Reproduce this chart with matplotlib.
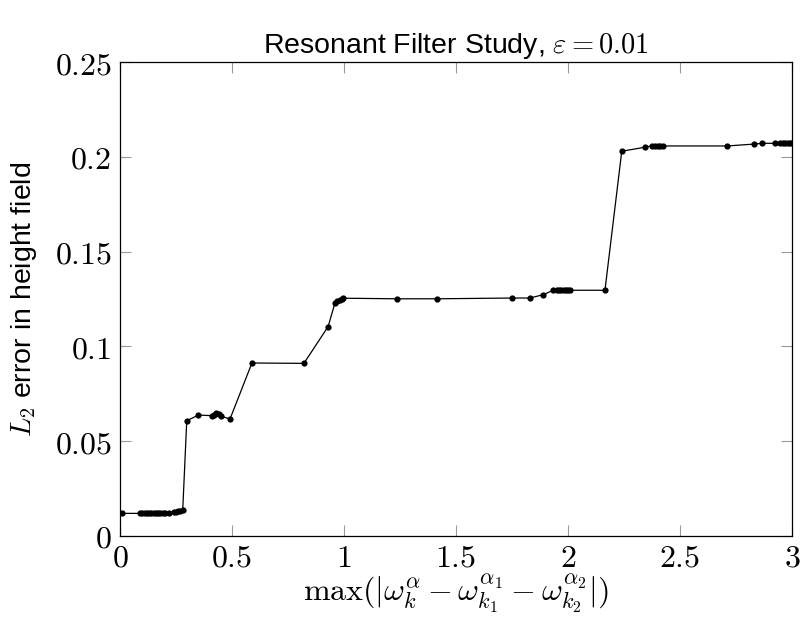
import matplotlib
matplotlib.use('Agg')
import matplotlib.pyplot as plt

plt.rcParams['mathtext.fontset'] = 'cm'

# data
x_vals = [0.01, 0.09, 0.10, 0.11, 0.12, 0.13, 0.14, 0.15, 0.16, 0.17, 0.18, 0.19,
          0.20, 0.22, 0.24, 0.25, 0.26, 0.27, 0.28,
          0.298, 0.35, 0.41, 0.42, 0.43, 0.44, 0.45, 0.491,
          0.589, 0.821, 0.929, 0.96, 0.97, 0.98, 0.99, 0.997,
          1.238, 1.415, 1.75, 1.83, 1.89,
          1.934, 1.95, 1.96, 1.97, 1.98, 1.99, 2.0, 2.009, 2.165,
          2.24, 2.342, 2.373, 2.39, 2.40, 2.41, 2.425,
          2.711, 2.832, 2.866, 2.922, 2.946, 2.96, 2.97, 2.98, 2.99, 3.0]
y_vals = [0.0118, 0.0118, 0.0118, 0.0118, 0.0118, 0.0118, 0.0118, 0.0118, 0.0118, 0.0118, 0.0118, 0.0118,
          0.0118, 0.0119, 0.0123, 0.0126, 0.0129, 0.0132, 0.0135,
          0.0607, 0.0637, 0.0634, 0.0640, 0.0650, 0.0645, 0.0632, 0.0616,
          0.0912, 0.0910, 0.1104, 0.1230, 0.1238, 0.1245, 0.1250, 0.1254,
          0.1251, 0.1251, 0.1255, 0.1255, 0.1273,
          0.1296, 0.1296, 0.1296, 0.1296, 0.1296, 0.1296, 0.1296, 0.1296, 0.1296,
          0.2030, 0.2051, 0.2058, 0.2060, 0.2060, 0.2058, 0.2058,
          0.2058, 0.2068, 0.2072, 0.2072, 0.2072, 0.2072, 0.2072, 0.2072, 0.2072, 0.2072]

x_ticks = [0, 0.5, 1, 1.5, 2, 2.5, 3]
x_tick_labels = ['$0$', '$0.5$', '$1$', '$1.5$', '$2$', '$2.5$', '$3$']
y_ticks = [0, 0.05, 0.1, 0.15, 0.2, 0.25]
y_tick_labels = ['$0$', '$0.05$', '$0.1$', '$0.15$', '$0.2$', '$0.25$']

fig = plt.figure(figsize=(8, 6.23), dpi=100)
ax = fig.add_axes([0.15, 0.1401, 0.84, 0.76])

ax.plot(x_vals, y_vals, color='black', linewidth=0.9, marker='o',
        markersize=4.5, markerfacecolor='black', markeredgewidth=0)

ax.set_xlim(0, 3)
ax.set_ylim(0, 0.25)
ax.set_xticks(x_ticks)
ax.set_xticklabels(x_tick_labels, fontsize=23)
ax.set_yticks(y_ticks)
ax.set_yticklabels(y_tick_labels, fontsize=23)
ax.tick_params(direction='in', top=True, right=True, length=8, width=0.8,
               color='#999999')
ax.tick_params(axis='x', pad=5)
ax.tick_params(axis='y', pad=6)
for s in ax.spines.values():
    s.set_linewidth(0.9)

ax.set_xlabel(r'$\max(|\omega_k^\alpha - \omega_{k_1}^{\alpha_1} - \omega_{k_2}^{\alpha_2}|)$',
              fontsize=23, labelpad=-1)
ax.set_ylabel(r'$L_2$ error in height field', fontsize=20.5,
              fontfamily='Liberation Sans', labelpad=11)
ax.set_title(r'Resonant Filter Study, $\varepsilon = 0.01$', fontsize=20.5,
             fontfamily='Liberation Sans', pad=7)

fig.savefig('out.png', dpi=100)
